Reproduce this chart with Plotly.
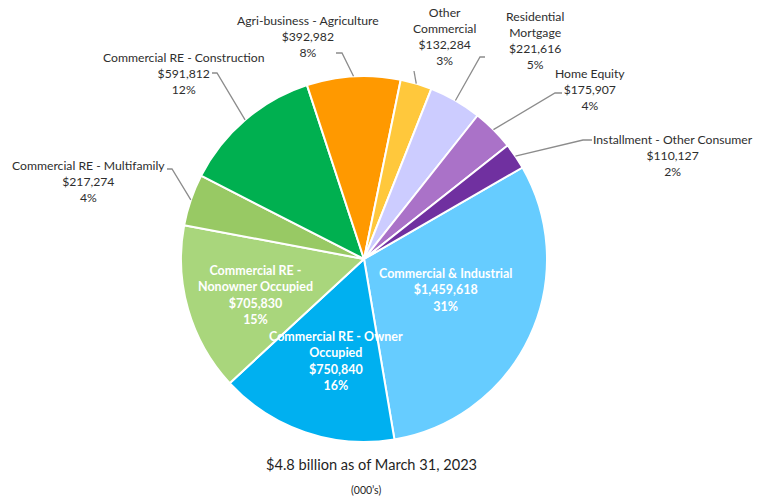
import math
import plotly.graph_objects as go

# Loan portfolio by category (balances in $000's), listed clockwise
categories = [
    "Commercial & Industrial",
    "Commercial RE - Owner Occupied",
    "Commercial RE - Nonowner Occupied",
    "Commercial RE - Multifamily",
    "Commercial RE - Construction",
    "Agri-business - Agriculture",
    "Other Commercial",
    "Residential Mortgage",
    "Home Equity",
    "Installment - Other Consumer",
]
balances = [1459618, 750840, 705830, 217274, 591812, 392982, 132284, 221616, 175907, 110127]
pct_labels = ["31%", "16%", "15%", "4%", "12%", "8%", "3%", "5%", "4%", "2%"]
label_names = [
    "Commercial & Industrial",
    "Commercial RE - Owner<br>Occupied",
    "Commercial RE -<br>Nonowner Occupied",
    "Commercial RE - Multifamily",
    "Commercial RE - Construction",
    "Agri-business - Agriculture",
    "Other<br>Commercial",
    "Residential<br>Mortgage",
    "Home Equity",
    "Installment - Other Consumer",
]
colors = ["#66CCFF", "#00B0F0", "#A9D67C", "#98C964", "#00B050",
          "#FF9900", "#FFC83C", "#CCCCFF", "#AA72C8", "#7030A0"]

title_text = "$4.8 billion as of March 31, 2023"
units_text = "(000\u2019s)"

W, H = 757, 500
FONT = "Lato"
TEXT_COLOR = "#2E2E2E"

# Pie placement (pixels)
CX, CY, R = 364, 259, 183
ROTATION = 60
dom_x = [(CX - R) / W, (CX + R) / W]
dom_y = [1 - (CY + R) / H, 1 - (CY - R) / H]

# Label layout: (center x, center y) in pixels; inside labels have no leader
label_pos = [
    (445, 290), (336, 361), (255, 295), (88, 181), (183, 73),
    (308, 37), (444, 37), (535, 41), (590, 90), (673, 155),
]
inside = [True, True, True, False, False, False, False, False, False, False]
# Leader line elbow and end points (pixels) for outside labels
leader_pts = {
    3: ((172, 169), (167, 169)),
    4: ((217, 73), (212, 73)),
    5: ((342, 53), (336, 53)),
    6: ((414, 71), (414, 71)),
    7: ((480, 57), (485, 57)),
    8: ((555, 93), (562, 93)),
    9: ((583, 140), (592, 140)),
}


def px_to_paper(x, y):
    return x / W, 1 - y / H


fig = go.Figure(go.Pie(
    labels=categories,
    values=balances,
    sort=False,
    direction="clockwise",
    rotation=ROTATION,
    marker=dict(colors=colors, line=dict(color="white", width=2)),
    textinfo="none",
    hoverinfo="label+value+percent",
    showlegend=False,
    domain=dict(x=dom_x, y=dom_y),
))

total = sum(balances)
annotations = []
shapes = []
cum = 0.0
for i, v in enumerate(balances):
    mid = ROTATION + (cum + v / 2) / total * 360
    cum += v
    text = f"{label_names[i]}<br>${v:,}<br>{pct_labels[i]}"
    lx, ly = px_to_paper(*label_pos[i])
    if inside[i]:
        font = dict(family=FONT, size=12.5, color="white", weight="bold")
    else:
        font = dict(family=FONT, size=12.2, color=TEXT_COLOR)
        a = math.radians(mid)
        ex, ey = CX + R * math.sin(a), CY - R * math.cos(a)
        (bx, by), (tx, ty) = leader_pts[i]
        p0 = px_to_paper(ex, ey)
        p1 = px_to_paper(bx, by)
        p2 = px_to_paper(tx, ty)
        shapes.append(dict(
            type="path", xref="paper", yref="paper",
            path=f"M {p0[0]},{p0[1]} L {p1[0]},{p1[1]} L {p2[0]},{p2[1]}",
            line=dict(color="#8C8C8C", width=1.3),
        ))
    annotations.append(dict(
        x=lx, y=ly, xref="paper", yref="paper", text=text,
        showarrow=False, xanchor="center", yanchor="middle",
        align="center", font=font,
    ))

tx, ty = px_to_paper(371, 464)
annotations.append(dict(x=tx, y=ty, xref="paper", yref="paper", text=title_text,
                        showarrow=False, xanchor="center", yanchor="middle",
                        font=dict(family=FONT, size=14.6, color="#1F1F1F")))
ux, uy = px_to_paper(366, 490)
annotations.append(dict(x=ux, y=uy, xref="paper", yref="paper", text=units_text,
                        showarrow=False, xanchor="center", yanchor="middle",
                        font=dict(family=FONT, size=10.5, color="#1F1F1F")))

fig.update_layout(
    width=W, height=H,
    margin=dict(l=0, r=0, t=0, b=0),
    paper_bgcolor="white", plot_bgcolor="white",
    annotations=annotations, shapes=shapes,
)

fig.write_html("out.html")
